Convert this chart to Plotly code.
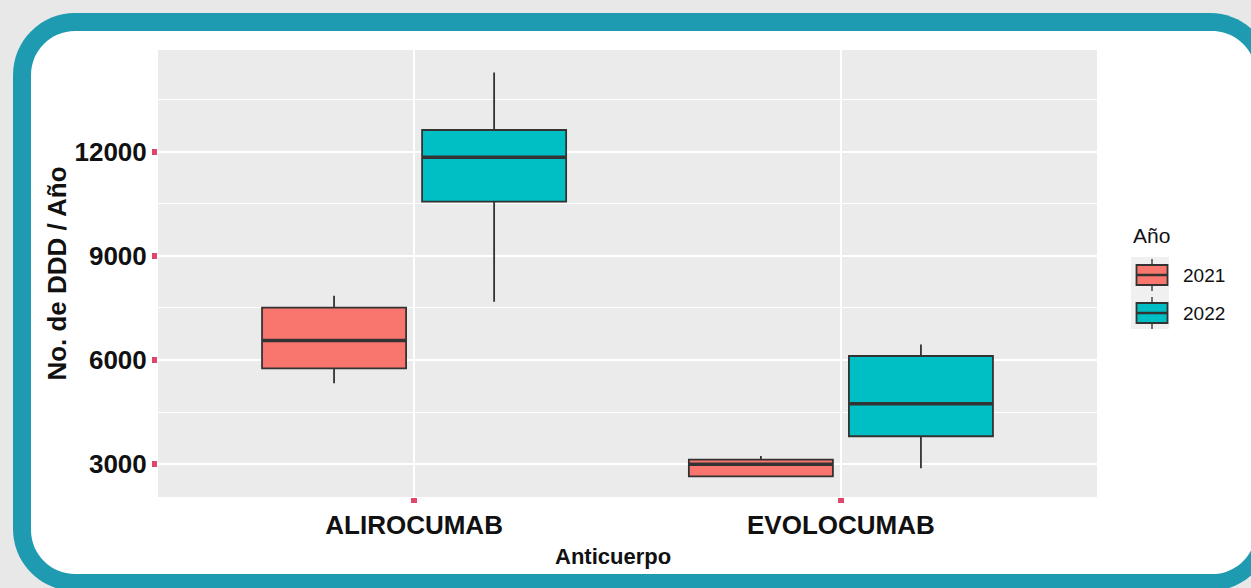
import plotly.graph_objects as go

# Box-plot summary statistics (DDD per year) by antibody and year
anticuerpos = ["ALIROCUMAB", "EVOLOCUMAB"]
anios = ["2021", "2022"]

lower_2021 = [5330, 2640]
q1_2021 = [5760, 2644]
median_2021 = [6560, 2990]
q3_2021 = [7510, 3125]
upper_2021 = [7850, 3230]

lower_2022 = [7680, 2875]
q1_2022 = [10570, 3800]
median_2022 = [11850, 4740]
q3_2022 = [12635, 6115]
upper_2022 = [14290, 6450]

y_ticks = [3000, 6000, 9000, 12000]

FILL = {"2021": "#F8766D", "2022": "#00BFC4"}
OUTLINE = "#333333"
TICK_RED = "#E0476A"
FONT = "Liberation Sans, Arial, sans-serif"

W, H = 1251, 588
L, R, T, B = 158, 1097, 50, 497
PW, PH = R - L, B - T

BOXGAP, GROUPGAP = 0.25, 0.1


def px(x):
    return (x - L) / PW


def py(y):
    return (B - y) / PH


def rounded_rect(x0, y0, x1, y1, r):
    k = 0.5523 * r
    pts = [
        f"M{px(x0 + r)},{py(y0)}",
        f"L{px(x1 - r)},{py(y0)}",
        f"C{px(x1 - r + k)},{py(y0)} {px(x1)},{py(y0 + r - k)} {px(x1)},{py(y0 + r)}",
        f"L{px(x1)},{py(y1 - r)}",
        f"C{px(x1)},{py(y1 - r + k)} {px(x1 - r + k)},{py(y1)} {px(x1 - r)},{py(y1)}",
        f"L{px(x0 + r)},{py(y1)}",
        f"C{px(x0 + r - k)},{py(y1)} {px(x0)},{py(y1 - r + k)} {px(x0)},{py(y1 - r)}",
        f"L{px(x0)},{py(y0 + r)}",
        f"C{px(x0)},{py(y0 + r - k)} {px(x0 + r - k)},{py(y0)} {px(x0 + r)},{py(y0)}",
        "Z",
    ]
    return " ".join(pts)


fig = go.Figure()

series = [
    ("2021", lower_2021, q1_2021, median_2021, q3_2021, upper_2021),
    ("2022", lower_2022, q1_2022, median_2022, q3_2022, upper_2022),
]

for name, lo, q1, med, q3, up in series:
    fig.add_trace(go.Box(
        name=name,
        x=anticuerpos,
        lowerfence=lo,
        q1=q1,
        median=med,
        q3=q3,
        upperfence=up,
        fillcolor=FILL[name],
        line=dict(color=OUTLINE, width=1.8),
        whiskerwidth=0,
        boxpoints=False,
        hoverinfo="skip",
        showlegend=False,
    ))

shapes = [
    # frame: teal rounded border with white card inside
    dict(type="path", xref="paper", yref="paper", layer="below",
         path=rounded_rect(13, 13, 1272, 591, 62),
         fillcolor="#1E9BB0", line=dict(width=0)),
    dict(type="path", xref="paper", yref="paper", layer="below",
         path=rounded_rect(31, 31, 1256, 574, 44),
         fillcolor="#FFFFFF", line=dict(width=0)),
    # grey panel
    dict(type="rect", xref="paper", yref="paper", layer="below",
         x0=0, x1=1, y0=0, y1=1, fillcolor="#EBEBEB", line=dict(width=0)),
]

# thicker median bars (ggplot style)
group_w = 1 - BOXGAP
box_w = group_w / len(anios)
for gi, (name, lo, q1, med, q3, up) in enumerate(series):
    for ci, m in enumerate(med):
        centre = ci - group_w / 2 + box_w * (gi + 0.5)
        half = box_w * (1 - GROUPGAP) / 2
        shapes.append(dict(type="line", xref="x", yref="y", layer="above",
                           x0=centre - half, x1=centre + half, y0=m, y1=m,
                           line=dict(color=OUTLINE, width=3.5)))

annotations = [
    # x-axis title
    dict(text="<b>Anticuerpo</b>", xref="paper", yref="paper", x=px(613), y=py(556),
         xanchor="center", yanchor="middle", showarrow=False,
         font=dict(family=FONT, size=22, color="#111111")),
    # legend title
    dict(text="Año", xref="paper", yref="paper", x=px(1131), y=py(235),
         xanchor="left", yanchor="middle", showarrow=False,
         font=dict(family=FONT, size=21, color="#111111")),
]

# legend keys: grey key column with box glyphs and labels
shapes.append(dict(type="rect", xref="paper", yref="paper", layer="below",
                   x0=px(1131), x1=px(1169), y0=py(257), y1=py(329),
                   fillcolor="#F0F0F0", line=dict(width=0)))
key_centres = [275, 313]
for name, yc in zip(anios, key_centres):
    xc = 1152
    shapes += [
        dict(type="line", xref="paper", yref="paper", layer="above",
             x0=px(xc), x1=px(xc), y0=py(yc - 16), y1=py(yc + 16),
             line=dict(color="#444444", width=1.5)),
        dict(type="rect", xref="paper", yref="paper", layer="above",
             x0=px(xc - 15.5), x1=px(xc + 15.5), y0=py(yc - 10), y1=py(yc + 10),
             fillcolor=FILL[name], line=dict(color=OUTLINE, width=1.8)),
        dict(type="line", xref="paper", yref="paper", layer="above",
             x0=px(xc - 15.5), x1=px(xc + 15.5), y0=py(yc), y1=py(yc),
             line=dict(color=OUTLINE, width=2.5)),
    ]
    annotations.append(dict(text=name, xref="paper", yref="paper",
                            x=px(1181), y=py(yc), xanchor="left", yanchor="middle",
                            showarrow=False,
                            font=dict(family=FONT, size=19, color="#111111")))

tick_font = dict(family=FONT, size=26, color="#111111", weight=700)

fig.update_layout(
    width=W, height=H,
    margin=dict(l=L, r=W - R, t=T, b=H - B),
    paper_bgcolor="#E8E8E8",
    plot_bgcolor="rgba(0,0,0,0)",
    boxmode="group",
    boxgap=BOXGAP,
    boxgroupgap=GROUPGAP,
    shapes=shapes,
    annotations=annotations,
    showlegend=False,
    xaxis=dict(
        type="category",
        categoryorder="array", categoryarray=anticuerpos,
        range=[-0.6, 1.6],
        showgrid=True, gridcolor="#FFFFFF", gridwidth=2,
        zeroline=False, showline=False,
        ticks="outside", ticklen=5, tickwidth=6, tickcolor=TICK_RED,
        tickfont=tick_font,
    ),
    yaxis=dict(
        range=[2048, 14942],
        tickvals=y_ticks,
        ticktext=[str(v) for v in y_ticks],
        showgrid=True, gridcolor="#FFFFFF", gridwidth=2,
        minor=dict(dtick=1500, tick0=0, showgrid=True, gridcolor="#FFFFFF",
                   gridwidth=1, ticks=""),
        zeroline=False, showline=False,
        ticks="outside", ticklen=5, tickwidth=6, tickcolor=TICK_RED,
        tickfont=tick_font,
        title=dict(text="No. de DDD / Año", standoff=0,
                   font=dict(family=FONT, size=26, color="#111111", weight=700)),
    ),
)

fig.write_html("out.html")
